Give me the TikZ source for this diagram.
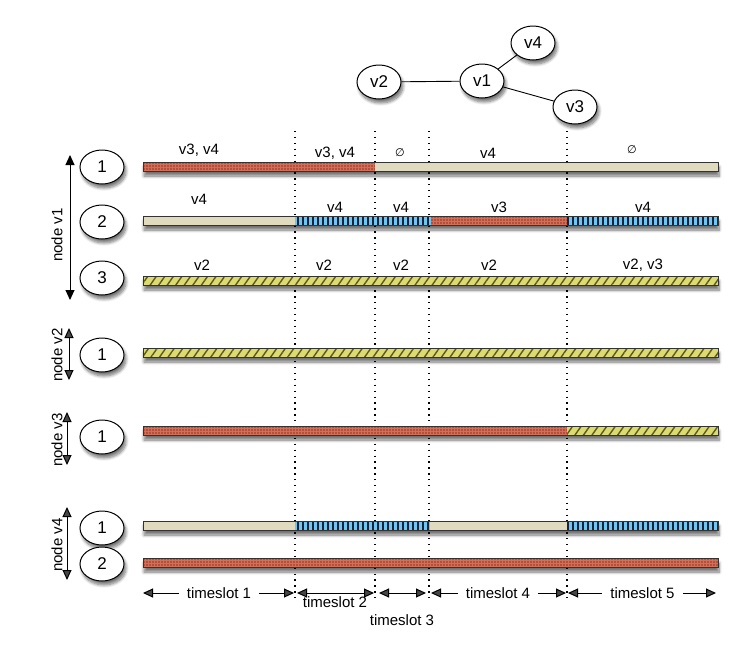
\documentclass[tikz,border=0pt]{standalone}
\usepackage{fontspec}
\setmainfont{Liberation Sans}
\newfontfamily\symfont{DejaVu Sans}
\usetikzlibrary{shapes.geometric, arrows.meta, patterns.meta, shadows.blur}
\definecolor{slotbeige}{RGB}{224, 219, 190}
\definecolor{slotred}{RGB}{212, 110, 86}
\definecolor{slotdots}{RGB}{140, 50, 36}
\definecolor{slotblue}{RGB}{110, 198, 242}
\definecolor{slotnavy}{RGB}{25, 35, 60}
\definecolor{slotyellow}{RGB}{220, 218, 112}
\definecolor{slotolive}{RGB}{90, 90, 28}
% one channel bar: shadow first, outline last
\newcommand{\barbase}[1]{\path[barshadow] (143,#1-4.5) rectangle (718,#1+4.5);}
\newcommand{\barline}[1]{\draw[line width=0.9pt, black!80] (143,#1-4.5) rectangle (718,#1+4.5);}
\newcommand{\chanseg}[4]{\path[#1] (#2,#4-4.5) rectangle (#3,#4+4.5);}

\begin{document}
\begin{tikzpicture}[x=1pt, y=-1pt, font=\fontsize{15}{18}\selectfont,
    radio/.style={ellipse, draw, fill=white, line width=1pt, minimum width=44pt,
        minimum height=34pt, inner sep=0pt, font=\fontsize{17}{20}\selectfont,
        blur shadow={shadow xshift=2pt, shadow yshift=-4pt, shadow blur steps=8,
            shadow blur radius=3pt, shadow opacity=55}},
    barshadow/.style={fill=white, blur shadow={shadow xshift=1pt, shadow yshift=-4.5pt,
            shadow blur steps=8, shadow blur radius=3pt, shadow opacity=55}},
    beigeseg/.style={fill=slotbeige},
    redseg/.style={preaction={fill=slotred}, pattern={Dots[distance=3pt, radius=0.8pt]}, pattern color=slotdots},
    blueseg/.style={preaction={fill=slotnavy}, pattern={Lines[angle=90, distance=5pt, line width=3pt]}, pattern color=slotblue},
    yellowseg/.style={preaction={fill=slotyellow}, pattern={Lines[angle=55, distance=7pt, line width=1.4pt]}, pattern color=slotolive},
    bound/.style={line width=1.2pt, dash pattern=on 1.3pt off 4.6pt},
    span/.style={{Triangle[length=10pt,width=9pt]}-{Triangle[length=10pt,width=9pt]}, line width=1pt}]

\useasboundingbox (0,0) rectangle (747,646);

% conflict graph
\node[radio] (v2) at (379,82) {v2};
\node[radio] (v1) at (482,81) {v1};
\node[radio] (v4) at (533,43) {v4};
\node[radio] (v3) at (575,107) {v3};
\draw[line width=0.9pt] (v2) -- (v1);
\draw[line width=0.9pt] (v1) -- (v4);
\draw[line width=0.9pt] (v1) -- (v3);

% timeslot boundaries
\draw[bound] (295,131) -- (295,598);
\draw[bound] (375,131) -- (375,600);
\draw[bound] (429,131) -- (429,598);
\draw[bound] (567,131) -- (567,598);

% node v1
\coordinate (v1top) at (70,155);
\coordinate (v1bot) at (70,300);
\draw[span] (v1top) -- (v1bot);
\node[rotate=90] (v1lab) at (57,235) {node v1};
\node[radio] (v1c1) at (102,167) {1};
\node[radio] (v1c2) at (102,222) {2};
\node[radio] (v1c3) at (102,278) {3};

\barbase{167}
\chanseg{redseg}{143}{375}{167}
\chanseg{beigeseg}{375}{718}{167}
\barline{167}
\node (a1) at (199,150) {v3, v4};
\node (a2) at (335,153) {v3, v4};
\node (a3) at (400,153) {\symfont\fontsize{11}{13}\selectfont ∅};
\node (a4) at (488,153) {v4};
\node (a5) at (632,150) {\symfont\fontsize{11}{13}\selectfont ∅};

\barbase{221}
\chanseg{beigeseg}{143}{295}{221}
\chanseg{blueseg}{295}{431}{221}
\chanseg{redseg}{431}{567}{221}
\chanseg{blueseg}{567}{718}{221}
\barline{221}
\node (b1) at (199,199) {v4};
\node (b2) at (335,207) {v4};
\node (b3) at (401,207) {v4};
\node (b4) at (499,207) {v3};
\node (b5) at (643,207) {v4};

\barbase{281}
\chanseg{yellowseg}{143}{718}{281}
\barline{281}
\node (c1) at (202,265) {v2};
\node (c2) at (324,265) {v2};
\node (c3) at (401,265) {v2};
\node (c4) at (489,265) {v2};
\node (c5) at (643,265) {v2, v3};

% node v2
\coordinate (v2top) at (69,328);
\coordinate (v2bot) at (69,380);
\draw[span] (v2top) -- (v2bot);
\node[rotate=90] (v2lab) at (57,355) {node v2};
\node[radio] (v2c1) at (102,355) {1};
\barbase{353}
\chanseg{yellowseg}{143}{718}{353}
\barline{353}

% node v3
\coordinate (v3top) at (67,412);
\coordinate (v3bot) at (67,465);
\draw[span] (v3top) -- (v3bot);
\node[rotate=90] (v3lab) at (57,440) {node v3};
\node[radio] (v3c1) at (102,437) {1};
\barbase{431}
\chanseg{redseg}{143}{567}{431}
\chanseg{yellowseg}{567}{718}{431}
\barline{431}

% node v4
\coordinate (v4top) at (67,507);
\coordinate (v4bot) at (67,580);
\draw[span] (v4top) -- (v4bot);
\node[rotate=90] (v4lab) at (57,545) {node v4};
\node[radio] (v4c1) at (102,528) {1};
\node[radio] (v4c2) at (102,564) {2};
\barbase{526}
\chanseg{beigeseg}{143}{295}{526}
\chanseg{blueseg}{295}{430}{526}
\chanseg{beigeseg}{430}{567}{526}
\chanseg{blueseg}{567}{718}{526}
\barline{526}
\barbase{563}
\chanseg{redseg}{143}{718}{563}
\barline{563}

% timeslots
\coordinate (s0) at (143,593);
\coordinate (s1) at (295,593);
\coordinate (s2) at (375,593);
\coordinate (s3) at (429,593);
\coordinate (s4) at (567,593);
\coordinate (s5) at (718,593);
\draw[span, shorten >=1pt] (s0) -- (s1) node[midway, fill=white, inner xsep=8pt] (ts1) {timeslot 1};
\draw[span, shorten <=2pt, shorten >=1pt] (s1) -- (s2) node[midway, below=0pt] (ts2) {timeslot 2};
\draw[span, shorten <=4pt, shorten >=3pt] (s2) -- (s3) node[midway, below=18pt] (ts3) {timeslot 3};
\draw[span, shorten <=2pt, shorten >=1pt] (s3) -- (s4) node[midway, fill=white, inner xsep=8pt] (ts4) {timeslot 4};
\draw[span, shorten <=1pt, shorten >=2pt] (s4) -- (s5) node[midway, fill=white, inner xsep=8pt] (ts5) {timeslot 5};

\end{tikzpicture}
\end{document}
